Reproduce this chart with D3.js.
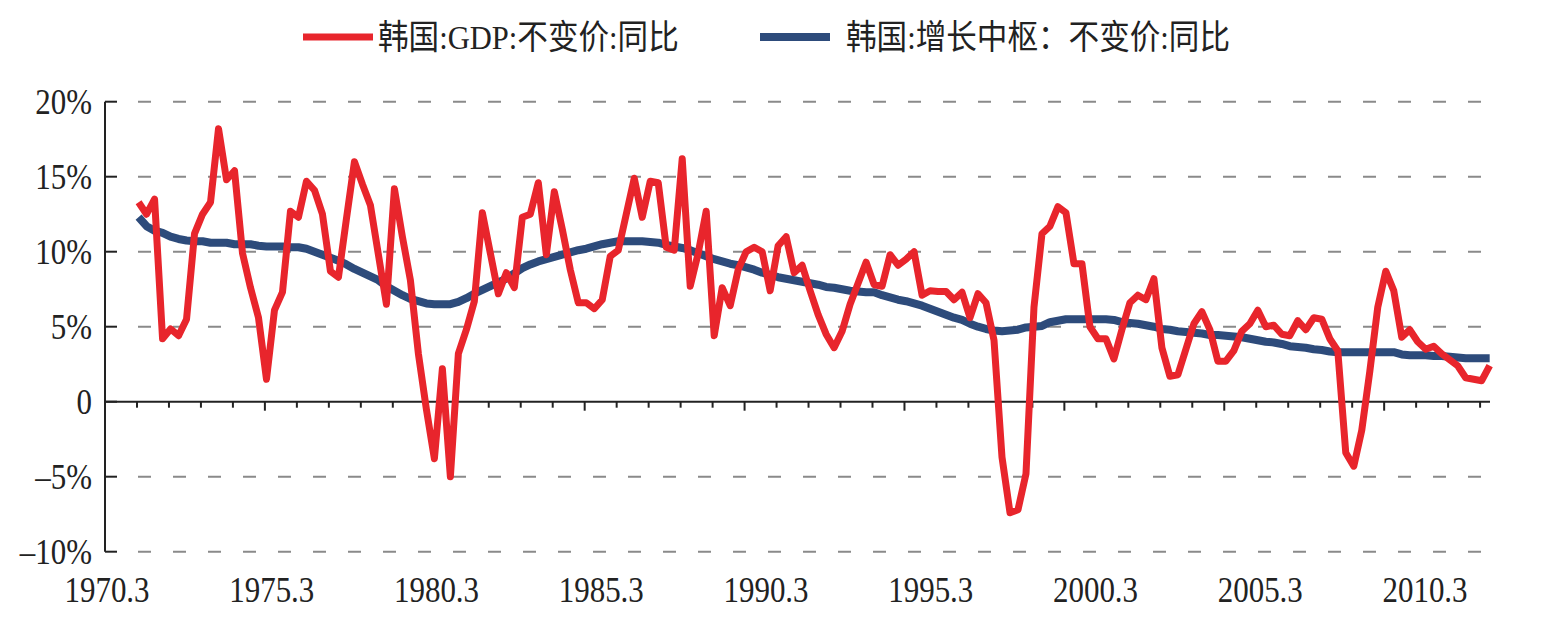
<!DOCTYPE html>
<html>
<head>
<meta charset="utf-8">
<script src="https://cdn.jsdelivr.net/npm/d3@7"></script>
<style>
  body { margin: 0; background: #fff; }
  text { font-family: "Liberation Serif", "Noto Sans CJK SC", serif; fill: #222; }
</style>
</head>
<body>
<div id="chart"></div>
<script>
// quarterly, first point = 1971 Q1
var firstYear = 1971;
var gdpYoY = [
  13.3,12.5,13.5,4.2,4.85,4.4,5.5,11.2,12.5,13.3,
  18.2,14.8,15.4,9.9,7.6,5.6,1.5,6.1,7.3,12.7,
  12.3,14.7,14.1,12.5,8.7,8.3,12.2,16.0,14.5,13.1,
  9.8,6.5,14.2,11.0,8.1,3.2,-0.5,-3.8,2.2,-5.0,
  3.2,4.8,6.7,12.6,9.9,7.2,8.6,7.6,12.3,12.5,
  14.6,9.8,14.0,11.5,8.8,6.6,6.6,6.2,6.8,9.7,
  10.1,12.5,14.9,12.3,14.7,14.6,10.3,10.1,16.2,7.7,
  9.9,12.7,4.4,7.6,6.4,8.8,10.0,10.3,10.0,7.4,
  10.4,11.0,8.6,9.1,7.4,5.8,4.5,3.6,4.7,6.5,
  7.9,9.3,7.8,7.7,9.8,9.1,9.5,10.0,7.1,7.4,
  7.35,7.35,6.8,7.3,5.6,7.2,6.6,4.1,-3.7,-7.4,
  -7.2,-4.8,6.3,11.2,11.7,13.0,12.6,9.2,9.2,5.0,
  4.2,4.2,2.85,4.8,6.6,7.1,6.8,8.2,3.6,1.7,
  1.8,3.5,5.2,6.0,4.8,2.7,2.7,3.4,4.7,5.2,
  6.1,5.0,5.1,4.5,4.4,5.4,4.8,5.6,5.5,4.2,
  3.4,-3.4,-4.3,-1.9,2.0,6.3,8.7,7.4,4.3,4.8,
  4.0,3.5,3.7,3.2,2.8,2.4,1.6,1.5,1.4,2.4
];
var trendYoY = [
  12.3,11.7,11.4,11.25,11.0,10.85,10.75,10.7,10.7,10.6,
  10.6,10.6,10.5,10.5,10.5,10.4,10.35,10.35,10.35,10.3,
  10.3,10.2,10.0,9.8,9.6,9.4,9.15,8.85,8.6,8.35,
  8.1,7.7,7.4,7.1,6.85,6.7,6.55,6.5,6.5,6.5,
  6.65,6.9,7.2,7.45,7.7,7.95,8.2,8.55,8.9,9.15,
  9.35,9.5,9.65,9.8,9.95,10.1,10.2,10.35,10.5,10.6,
  10.7,10.7,10.7,10.7,10.65,10.6,10.45,10.35,10.25,10.1,
  9.9,9.7,9.5,9.35,9.2,9.1,8.95,8.8,8.6,8.45,
  8.3,8.2,8.1,8.0,7.9,7.8,7.65,7.6,7.5,7.4,
  7.35,7.3,7.3,7.1,6.95,6.8,6.7,6.55,6.4,6.2,
  6.0,5.8,5.6,5.45,5.2,5.0,4.85,4.75,4.7,4.75,
  4.8,4.95,5.0,5.05,5.3,5.4,5.5,5.5,5.5,5.5,
  5.5,5.5,5.45,5.3,5.25,5.2,5.1,5.0,4.85,4.8,
  4.7,4.65,4.6,4.55,4.45,4.45,4.4,4.35,4.3,4.2,
  4.1,4.0,3.95,3.85,3.7,3.65,3.6,3.5,3.45,3.35,
  3.3,3.3,3.3,3.3,3.3,3.3,3.3,3.3,3.15,3.1,
  3.1,3.1,3.05,3.05,3.0,2.95,2.9,2.9,2.9,2.9
];
var yTicks = [20, 15, 10, 5, 0, -5, -10];
var yTickLabels = ["20%", "15%", "10%", "5%", "0", "\u20135%", "\u201310%"];
var labelYears = [1970, 1975, 1980, 1985, 1990, 1995, 2000, 2005, 2010];
var xLabels = ["1970.3", "1975.3", "1980.3", "1985.3", "1990.3", "1995.3", "2000.3", "2005.3", "2010.3"];
var seriesNames = ["韩国:GDP:不变价:同比", "韩国:增长中枢：不变价:同比"];

var red = "#e8252c", blue = "#2d4b7b";
var width = 1565, height = 629;

var svg = d3.select("#chart").append("svg")
  .attr("width", width)
  .attr("height", height);

var x = d3.scaleLinear().domain([1970, 2013.31]).range([105, 1490]);
var y = d3.scaleLinear().domain([-10, 20]).range([551.7, 101.7]);
// the printed year labels sit a bit off the tick marks in the original
var xl = d3.scaleLinear().domain([1970, 2010]).range([107, 1425]);

function qx(i) { return x(firstYear + 0.05 + i / 4); }

// dashed grid
svg.append("g").selectAll("line")
  .data(yTicks.filter(function(d) { return d !== 0; }))
  .enter().append("line")
  .attr("x1", 138).attr("x2", 1490)
  .attr("y1", function(d) { return y(d); })
  .attr("y2", function(d) { return y(d); })
  .attr("stroke", "#8a8a8a")
  .attr("stroke-width", 2)
  .attr("stroke-dasharray", "13,22");

// y axis
svg.append("line")
  .attr("x1", 105).attr("x2", 105)
  .attr("y1", y(20)).attr("y2", y(-10))
  .attr("stroke", "#222").attr("stroke-width", 2);
svg.append("g").selectAll("line")
  .data(yTicks).enter().append("line")
  .attr("x1", 105).attr("x2", 117)
  .attr("y1", function(d) { return y(d); })
  .attr("y2", function(d) { return y(d); })
  .attr("stroke", "#222").attr("stroke-width", 2);

svg.append("g").selectAll("text")
  .data(yTicks).enter().append("text")
  .attr("transform", function(d) { return "translate(92," + y(d) + ") scale(0.86,1)"; })
  .attr("text-anchor", "end")
  .attr("dy", "0.35em")
  .style("font-size", "36px")
  .text(function(d, i) { return yTickLabels[i]; });

// zero line with yearly ticks
svg.append("line")
  .attr("x1", 105).attr("x2", 1490)
  .attr("y1", y(0)).attr("y2", y(0))
  .attr("stroke", "#222").attr("stroke-width", 2);
svg.append("g").selectAll("line")
  .data(d3.range(1971, 2014)).enter().append("line")
  .attr("x1", function(d) { return x(d); })
  .attr("x2", function(d) { return x(d); })
  .attr("y1", y(0))
  .attr("y2", function(d) { return y(0) + (d % 5 === 0 ? 9 : 6); })
  .attr("stroke", "#222").attr("stroke-width", 2);

svg.append("g").selectAll("text")
  .data(labelYears).enter().append("text")
  .attr("transform", function(d) { return "translate(" + xl(d) + ",602) scale(0.86,1)"; })
  .attr("text-anchor", "middle")
  .style("font-size", "36px")
  .text(function(d, i) { return xLabels[i]; });

// lines
var line = d3.line()
  .x(function(d, i) { return qx(i); })
  .y(function(d) { return y(d); });

svg.append("path")
  .datum(trendYoY)
  .attr("d", line)
  .attr("fill", "none")
  .attr("stroke", blue)
  .attr("stroke-width", 8)
  .attr("stroke-linejoin", "round");

svg.append("path")
  .datum(gdpYoY)
  .attr("d", line)
  .attr("fill", "none")
  .attr("stroke", red)
  .attr("stroke-width", 7)
  .attr("stroke-linejoin", "round");

// legend
var legend = [
  { name: seriesNames[0], color: red, x0: 303, w: 7, tx: 378 },
  { name: seriesNames[1], color: blue, x0: 760, w: 8, tx: 846 }
];
var lg = svg.append("g").selectAll("g").data(legend).enter().append("g");
lg.append("line")
  .attr("x1", function(d) { return d.x0; })
  .attr("x2", function(d) { return d.x0 + 70; })
  .attr("y1", 37).attr("y2", 37)
  .attr("stroke", function(d) { return d.color; })
  .attr("stroke-width", function(d) { return d.w; });
lg.append("text")
  .attr("transform", function(d) { return "translate(" + d.tx + ",49) scale(0.9,1)"; })
  .style("font-size", "34px")
  .text(function(d) { return d.name; });
</script>
</body>
</html>
